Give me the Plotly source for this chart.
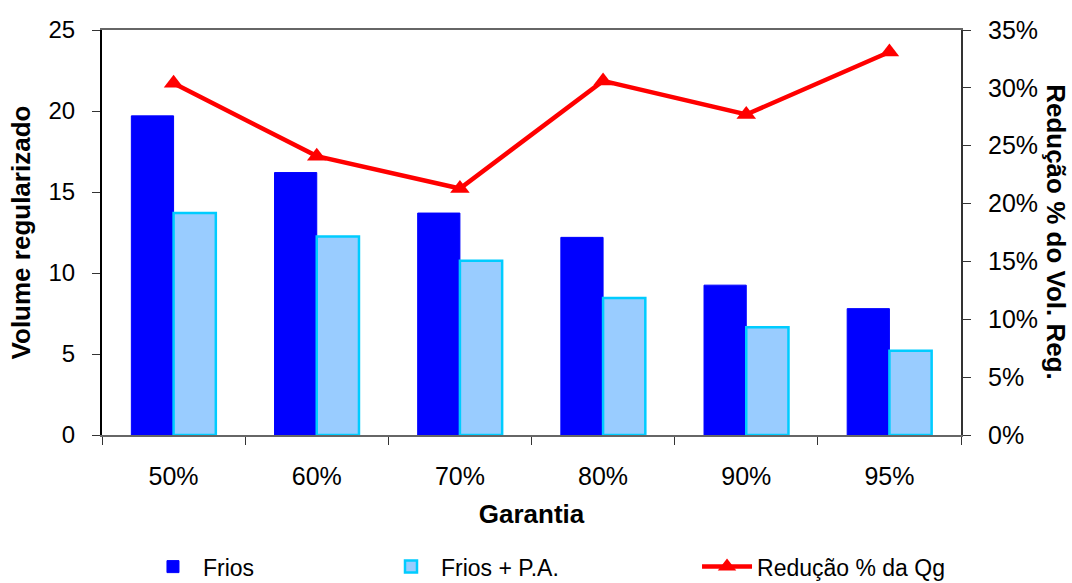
import plotly.graph_objects as go

categories = ["50%", "60%", "70%", "80%", "90%", "95%"]
frios = [19.7, 16.2, 13.7, 12.2, 9.25, 7.8]
frios_pa = [13.7, 12.25, 10.75, 8.45, 6.65, 5.2]
reducao = [0.304, 0.241, 0.213, 0.306, 0.277, 0.331]

left_ticks = [0, 5, 10, 15, 20, 25]
right_ticks = [0, 0.05, 0.10, 0.15, 0.20, 0.25, 0.30, 0.35]

FONT = "Liberation Sans, Arial, sans-serif"

fig = go.Figure()
fig.add_trace(go.Bar(x=categories, y=frios, name="Frios",
                     marker=dict(color="#0000FF", line=dict(color="#0000FF", width=1)),
                     yaxis="y", legend="legend"))
fig.add_trace(go.Bar(x=categories, y=frios_pa, name="Frios + P.A.",
                     marker=dict(color="#99CCFF", line=dict(color="#00CCFF", width=2.5)),
                     yaxis="y", legend="legend2"))
fig.add_trace(go.Scatter(x=categories, y=reducao, name="Redução % da Qg",
                         mode="lines+markers",
                         line=dict(color="#FF0000", width=4.5),
                         marker=dict(symbol="triangle-up", size=17, color="#FF0000"),
                         yaxis="y2", legend="legend3"))

leg_common = dict(orientation="h", xanchor="left", y=-0.272, yanchor="top",
                  font=dict(size=23), itemwidth=50, bgcolor="rgba(0,0,0,0)")

fig.update_layout(
    width=1072, height=583,
    margin=dict(l=102, r=111, t=30, b=148, autoexpand=False),
    plot_bgcolor="white", paper_bgcolor="white",
    font=dict(family=FONT, color="black", size=24),
    barmode="group", bargap=0.41, bargroupgap=0,
    showlegend=True,
    legend=dict(x=0.0477, **leg_common),
    legend2=dict(x=0.3248, **leg_common),
    legend3=dict(x=0.6927, **leg_common),
    xaxis=dict(showline=True, linecolor="#666", linewidth=2, mirror=True,
               ticks="outside", ticklen=8, tickcolor="#333", tickson="boundaries",
               tickfont=dict(size=25), ticklabelstandoff=18, automargin=False,
               title=dict(text="<b>Garantia</b>", font=dict(size=26), standoff=16),
               showgrid=False),
    yaxis=dict(range=[0, 25], tickvals=left_ticks, showline=True, linecolor="black",
               linewidth=2, ticks="outside", ticklen=8, tickcolor="#333",
               tickfont=dict(size=24), ticklabelstandoff=12, showgrid=False, zeroline=False,
               automargin=False,
               title=dict(text="<b>Volume regularizado</b>", font=dict(size=26), standoff=10)),
    yaxis3=dict(range=[0, 25], tickvals=left_ticks, overlaying="y", side="left",
                ticks="inside", ticklen=8, tickcolor="#333", showticklabels=False,
                showgrid=False, zeroline=False, showline=False, automargin=False),
    yaxis2=dict(range=[0, 0.35], tickvals=right_ticks, tickformat=".0%",
                overlaying="y", side="right", showline=True, linecolor="#333",
                linewidth=2, ticks="outside", ticklen=8, tickcolor="#333",
                tickfont=dict(size=25), ticklabelstandoff=12, showgrid=False, zeroline=False,
                automargin=False),
    yaxis4=dict(range=[0, 0.35], tickvals=right_ticks, overlaying="y", side="right",
                ticks="inside", ticklen=8, tickcolor="#333", showticklabels=False,
                showgrid=False, zeroline=False, showline=False, automargin=False),
    annotations=[dict(text="<b>Redução % do Vol. Reg.</b>", textangle=90,
                      xref="paper", yref="paper", x=1.111, y=0.5,
                      xanchor="center", yanchor="middle", showarrow=False,
                      font=dict(size=26))],
)

fig.write_html("out.html")
